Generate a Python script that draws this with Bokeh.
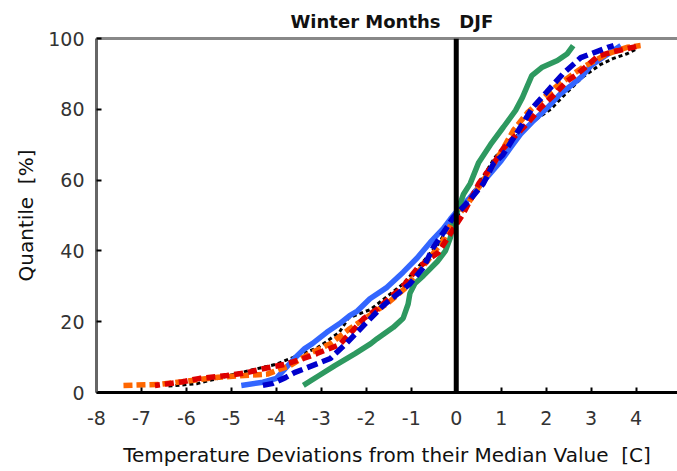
from bokeh.plotting import figure
from bokeh.models import Span, FixedTicker, LinearAxis, Range1d
from bokeh.embed import file_html
from bokeh.resources import INLINE

# ---- data ----
x_ticks = [-8, -7, -6, -5, -4, -3, -2, -1, 0, 1, 2, 3, 4]
x_tick_labels = ["-8", "-7", "-6", "-5", "-4", "-3", "-2", "-1", "0", "1", "2", "3", "4"]
y_ticks = [0, 20, 40, 60, 80, 100]
y_tick_labels = ["0", "20", "40", "60", "80", "100"]

black_x = [-6.4, -5.76, -4.8, -4.5, -4.0, -3.08, -2.85, -2.6, -2.4, -1.9, -1.55, -1.18, -0.98, -0.7, -0.4, -0.1, 0.15, 0.5, 0.87, 1.3, 1.76, 2.1, 2.4, 2.8, 3.2, 3.48, 3.8, 4.0]
black_y = [1.8, 2.5, 5.6, 6.5, 8, 12.7, 14.7, 17, 21, 23.5, 27, 30.7, 33.6, 37.5, 42, 48, 52, 59, 66.6, 72, 77, 80, 84, 89, 92.6, 94.3, 95.7, 97]

lightblue_x = [-4.78, -4.3, -4.0, -3.6, -3.37, -3.2, -2.88, -2.6, -2.37, -2.2, -1.92, -1.54, -1.18, -0.87, -0.58, -0.29, -0.13, 0.0, 0.3, 0.7, 1.0, 1.2, 1.43, 1.72, 2.03, 2.32, 2.55, 2.77, 3.0, 3.3, 3.66]
lightblue_y = [2, 2.9, 4, 9.6, 12.4, 13.8, 17, 19.4, 21.7, 23, 26.5, 29.7, 34, 38, 42.4, 46.3, 49, 51, 55, 61, 65.5, 69, 73, 76.8, 80.5, 84.4, 86.7, 89, 92.4, 95, 98]

green_x = [-3.4, -3.05, -2.7, -2.25, -1.9, -1.76, -1.4, -1.18, -1.07, -1.03, -0.92, -0.73, -0.42, -0.24, -0.13, -0.06, 0.05, 0.16, 0.31, 0.5, 0.76, 1.05, 1.32, 1.47, 1.56, 1.68, 1.9, 2.25, 2.47, 2.6]
green_y = [2, 4.8, 7.6, 11, 13.8, 15.2, 18.4, 21, 25, 28, 30.8, 33, 37, 40, 43.8, 48.6, 52, 56, 59, 65, 70, 75, 79.7, 83.3, 86, 89.5, 91.8, 93.8, 95.7, 98]

orange_x = [-7.4, -6.6, -6.0, -5.3, -4.2, -3.7, -3.26, -2.8, -2.37, -1.9, -1.5, -1.14, -0.96, -0.65, -0.29, -0.1, 0.1, 0.24, 0.5, 0.76, 1.0, 1.27, 1.58, 1.88, 2.25, 2.55, 2.83, 3.37, 3.8, 4.1]
orange_y = [2, 2.3, 3.2, 4.3, 5.2, 7.6, 11, 13.8, 18, 22, 25.5, 29.4, 32.5, 37, 43, 48, 51, 53, 58, 63, 68, 74, 79, 82.5, 86.7, 89.5, 92, 95.7, 97.5, 98]

red_x = [-6.7, -6.1, -5.7, -5.1, -4.7, -4.3, -3.8, -3.4, -3.1, -2.6, -2.3, -2.05, -1.74, -1.43, -1.25, -0.87, -0.58, -0.4, -0.09, 0.16, 0.5, 0.83, 1.05, 1.58, 1.88, 2.2, 2.47, 2.7, 3.15, 3.5, 4.0]
red_y = [2, 3, 4, 4.8, 5.5, 6.7, 8, 9.6, 11, 13.5, 17.5, 21, 23.7, 27.4, 29, 35, 38, 39.5, 45.7, 50.6, 59, 64.7, 69, 76, 80.5, 84.4, 88, 90, 95, 96.3, 97.7]

darkblue_x = [-4.3, -4.1, -3.8, -3.6, -3.2, -2.8, -2.45, -2.1, -1.9, -1.63, -1.29, -1.03, -0.73, -0.51, -0.24, -0.07, 0.31, 0.6, 0.83, 1.03, 1.43, 1.7, 2.0, 2.37, 2.77, 3.37, 3.5]
darkblue_y = [2, 2.5, 4.2, 5.6, 7.6, 9.6, 13.8, 18.4, 21, 24.5, 28, 30.7, 35.3, 41, 46, 49.4, 54.5, 59, 64.7, 67, 75, 80.5, 84.7, 90, 94.6, 97.5, 98]

FONT = "DejaVu Sans"

p = figure(width=677, height=471, output_backend="svg", toolbar_location=None,
           x_range=Range1d(-8, 4.92), y_range=Range1d(0, 100),
           min_border_left=96, min_border_right=0, min_border_top=38, min_border_bottom=79,
           background_fill_color="white", border_fill_color="white")
p.outline_line_color = None
p.grid.visible = False

p.title.text = "Winter Months\u00a0\u00a0\u00a0DJF"
p.title.text_font = FONT
p.title.text_font_size = "18px"
p.title.text_font_style = "bold"
p.title.align = "left"
p.title.offset = 194
p.title.standoff = 14
p.title.text_color = "#111111"

# axes
for ax, ticks, labels in ((p.xaxis[0], x_ticks, x_tick_labels), (p.yaxis[0], y_ticks, y_tick_labels)):
    ax.ticker = FixedTicker(ticks=ticks)
    ax.major_label_overrides = {t: s for t, s in zip(ticks, labels)}
    ax.minor_tick_line_color = None
    ax.major_tick_in = 5
    ax.major_tick_out = 0
    ax.major_tick_line_width = 2
    ax.major_tick_line_color = "black"
    ax.major_label_text_font = FONT
    ax.major_label_text_font_size = "19px"
    ax.major_label_text_color = "#333333"
    ax.axis_label_text_font = FONT
    ax.axis_label_text_font_size = "20px"
    ax.axis_label_text_font_style = "normal"
    ax.axis_label_text_color = "#111111"

p.xaxis.axis_line_color = "black"
p.xaxis.axis_line_width = 3
p.xaxis.major_label_standoff = 18
p.xaxis.axis_label = "Temperature Deviations from their Median Value\u00a0\u00a0[C]"
p.xaxis.axis_label_standoff = 15

p.yaxis.axis_line_color = "#666666"
p.yaxis.axis_line_width = 3
p.yaxis.major_label_standoff = 12
p.yaxis.axis_label = "Quantile\u00a0\u00a0[%]"
p.yaxis.axis_label_standoff = 7

top = LinearAxis(axis_line_color="#888888", axis_line_width=3,
                 major_tick_line_color=None, minor_tick_line_color=None,
                 major_label_text_font_size="0px", ticker=FixedTicker(ticks=[]))
p.add_layout(top, "above")

# vertical zero line
p.add_layout(Span(location=0, dimension="height", line_color="black", line_width=5))

# series
p.line(black_x, black_y, line_color="black", line_width=3, line_dash="4 3")
p.line(lightblue_x, lightblue_y, line_color="#3366FF", line_width=5.5)
p.line(green_x, green_y, line_color="#2E9960", line_width=5.5)
p.line(orange_x, orange_y, line_color="#FF6600", line_width=5.5, line_dash="9 4")
p.line(red_x, red_y, line_color="#DD0000", line_width=5.5, line_dash="9 5", line_dash_offset=4)
p.line(darkblue_x, darkblue_y, line_color="#0000CC", line_width=5.5, line_dash="11 5")

open("out.html", "w").write(file_html(p, INLINE))
